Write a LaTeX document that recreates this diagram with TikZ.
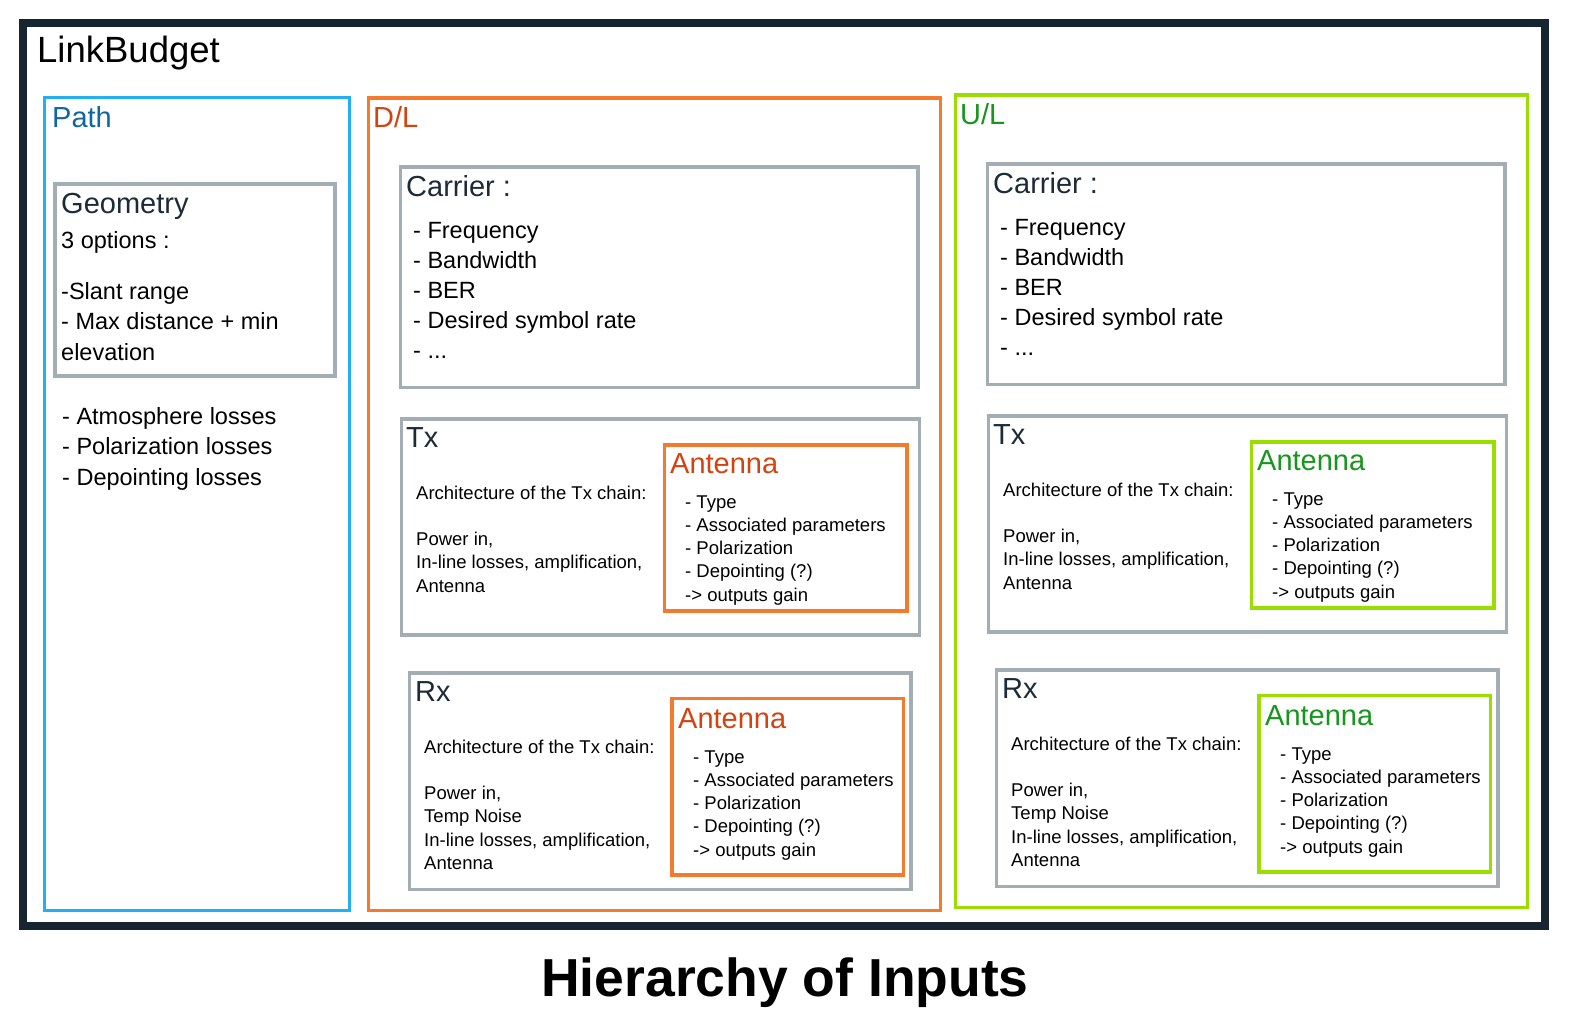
\documentclass[tikz,border=0pt]{standalone}
\usepackage{fontspec}
\setmainfont{Liberation Sans}
\usepackage{tikz}

\definecolor{framedark}{HTML}{16252F}
\definecolor{pathblue}{HTML}{22B0F2}
\definecolor{pathtext}{HTML}{0F66A0}
\definecolor{dlorange}{HTML}{F47A2E}
\definecolor{dltext}{HTML}{D4420F}
\definecolor{ulgreen}{HTML}{9ADD00}
\definecolor{ultext}{HTML}{16961C}
\definecolor{boxgray}{HTML}{A3AEB4}
\definecolor{headtext}{HTML}{1B2B38}

\newcommand{\txtlines}[1]{\begin{tabular}[t]{@{}l@{}}#1\end{tabular}}

\tikzset{
  head/.style={anchor=base west, text=headtext, font=\fontsize{29}{35}\selectfont},
  biglist/.style={anchor=base west, text=black, font=\fontsize{23.5}{30.5}\selectfont},
  smalllist/.style={anchor=base west, text=black, font=\fontsize{18.5}{23.3}\selectfont},
  graybox/.style={draw=boxgray, line width=3.5pt}
}

\begin{document}
\begin{tikzpicture}[x=1pt,y=1pt]
            \tikzstyle{every node}+=[inner sep=0pt]
            \useasboundingbox (0,0) rectangle (1570,-1025);
            \draw [framedark, line width=8pt] (23,-23) rectangle (1545,-925.5);
            \node (lb) [anchor=base west, font=\fontsize{36.5}{40}\selectfont] at (37,-63) {LinkBudget};
            \draw [pathblue, line width=3.5pt] (44.5,-97.5) rectangle (349.5,-910.5);
            \node (path) [head, text=pathtext] at (52,-127) {Path};
            \draw [graybox] (55,-184) rectangle (335,-376);
            \node (geo) [head] at (61,-213) {Geometry};
            \node (geoopt) [biglist] at (61,-248) {3 options :};
            \node (geolist) [biglist] at (61,-299) {\txtlines{-Slant range\\- Max distance + min\\elevation}};
            \node (pathlist) [biglist] at (62,-424) {\txtlines{- Atmosphere losses\\- Polarization losses\\- Depointing losses}};
            \draw [dlorange, line width=3.5pt] (368.5,-98) rectangle (940.5,-910.5);
            \node (dl) [head, text=dltext] at (373,-127) {D/L};
            \draw [graybox] (400.5,-167) rectangle (918,-387.5);
            \node (dlcar) [head] at (406,-196) {Carrier :};
            \node (dlcarlist) [biglist, font=\fontsize{23.5}{30}\selectfont] at (413,-238) {\txtlines{- Frequency\\- Bandwidth\\- BER\\- Desired symbol rate\\- ...}};
            \draw [graybox] (401.5,-419) rectangle (919.5,-635);
            \node (dltx) [head] at (406,-447) {Tx};
            \node (dltxlist) [smalllist] at (416,-499) {\txtlines{Architecture of the Tx chain:\\ \\Power in,\\In-line losses, amplification,\\Antenna}};
            \draw [dlorange, line width=3.5pt] (664.5,-445) rectangle (907,-611);
            \node (dltxant) [head, text=dltext] at (670,-473) {Antenna};
            \node (dltxantlist) [smalllist] at (685,-508) {\txtlines{- Type\\- Associated parameters\\- Polarization\\- Depointing (?)\\-> outputs gain}};
            \draw [graybox] (409.5,-673) rectangle (911,-889.5);
            \node (dlrx) [head] at (415,-701) {Rx};
            \node (dlrxlist) [smalllist] at (424,-753) {\txtlines{Architecture of the Tx chain:\\ \\Power in,\\Temp Noise\\In-line losses, amplification,\\Antenna}};
            \draw [dlorange, line width=3.5pt] (672,-698.5) rectangle (903.5,-875);
            \node (dlrxant) [head, text=dltext] at (678,-728) {Antenna};
            \node (dlrxantlist) [smalllist] at (693,-763) {\txtlines{- Type\\- Associated parameters\\- Polarization\\- Depointing (?)\\-> outputs gain}};
            \draw [ulgreen, line width=3.5pt] (955.5,-95) rectangle (1527.5,-907.5);
            \node (ul) [head, text=ultext] at (960,-124) {U/L};
            \draw [graybox] (987.5,-164) rectangle (1505,-384.5);
            \node (ulcar) [head] at (993,-193) {Carrier :};
            \node (ulcarlist) [biglist, font=\fontsize{23.5}{30}\selectfont] at (1000,-235) {\txtlines{- Frequency\\- Bandwidth\\- BER\\- Desired symbol rate\\- ...}};
            \draw [graybox] (988.5,-416) rectangle (1506.5,-632);
            \node (ultx) [head] at (993,-444) {Tx};
            \node (ultxlist) [smalllist] at (1003,-496) {\txtlines{Architecture of the Tx chain:\\ \\Power in,\\In-line losses, amplification,\\Antenna}};
            \draw [ulgreen, line width=3.5pt] (1251.5,-442) rectangle (1494,-608);
            \node (ultxant) [head, text=ultext] at (1257,-470) {Antenna};
            \node (ultxantlist) [smalllist] at (1272,-505) {\txtlines{- Type\\- Associated parameters\\- Polarization\\- Depointing (?)\\-> outputs gain}};
            \draw [graybox] (996.5,-670) rectangle (1498,-886.5);
            \node (ulrx) [head] at (1002,-698) {Rx};
            \node (ulrxlist) [smalllist] at (1011,-750) {\txtlines{Architecture of the Tx chain:\\ \\Power in,\\Temp Noise\\In-line losses, amplification,\\Antenna}};
            \draw [ulgreen, line width=3.5pt] (1259,-695.5) rectangle (1490.5,-872);
            \node (ulrxant) [head, text=ultext] at (1265,-725) {Antenna};
            \node (ulrxantlist) [smalllist] at (1280,-760) {\txtlines{- Type\\- Associated parameters\\- Polarization\\- Depointing (?)\\-> outputs gain}};
            \node (title) [anchor=base, font=\fontsize{53.5}{60}\selectfont\bfseries] at (785,-996) {Hierarchy of Inputs};
\end{tikzpicture}
\end{document}
